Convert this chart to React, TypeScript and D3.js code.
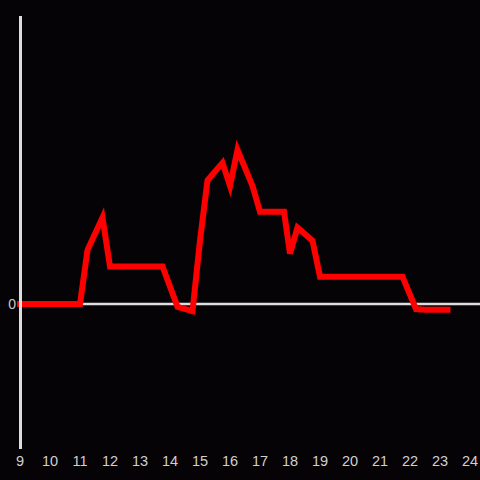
import React from "react";
import * as d3 from "d3";

const hours = [9, 11, 11.25, 11.75, 12, 13.75, 14.25, 14.75, 15, 15.25, 15.75, 16, 16.25, 16.75, 17, 17.8, 18, 18.25, 18.75, 19, 21.75, 22.2, 22.5, 23.25];
const values = [0, 0, 0.375, 0.6, 0.26, 0.26, -0.02, -0.05, 0.44, 0.86, 0.98, 0.82, 1.07, 0.82, 0.64, 0.64, 0.35, 0.53, 0.44, 0.19, 0.19, -0.035, -0.04, -0.04];
const xTicks = [9, 10, 11, 12, 13, 14, 15, 16, 17, 18, 19, 20, 21, 22, 23, 24];
const yTicks = [0];

export default function App() {
  const W = 480, H = 480;
  const x = d3.scaleLinear().domain([9, 24]).range([20, 470]);
  const y = d3.scaleLinear().domain([-1, 2]).range([448, 16]);
  const line = d3.line<number>().x((_, i) => x(hours[i])).y((d) => y(d));
  const font = "'Liberation Sans', Arial, sans-serif";
  return (
    <svg width={W} height={H} style={{ position: "fixed", left: 0, top: 0, background: "#050306" }}>
      <rect x={0} y={0} width={W} height={H} fill="#050306" />
      <line x1={20} x2={480} y1={y(0)} y2={y(0)} stroke="#dddddd" strokeWidth={2.5} />
      <path d={line(values) || ""} fill="none" stroke="#ff0000" strokeWidth={6} strokeLinejoin="miter" strokeLinecap="square" />
      <line x1={20.5} x2={20.5} y1={16} y2={449} stroke="#dddddd" strokeWidth={3} />
      {yTicks.map((t) => (
        <text key={t} x={16} y={y(t) + 5} textAnchor="end" fill="#cccccc" fontSize={14} fontFamily={font}>{t}</text>
      ))}
      {xTicks.map((t) => (
        <text key={t} x={x(t)} y={466} textAnchor="middle" fill="#d0d0d0" fontSize={14.5} fontFamily={font}>{t}</text>
      ))}
    </svg>
  );
}
